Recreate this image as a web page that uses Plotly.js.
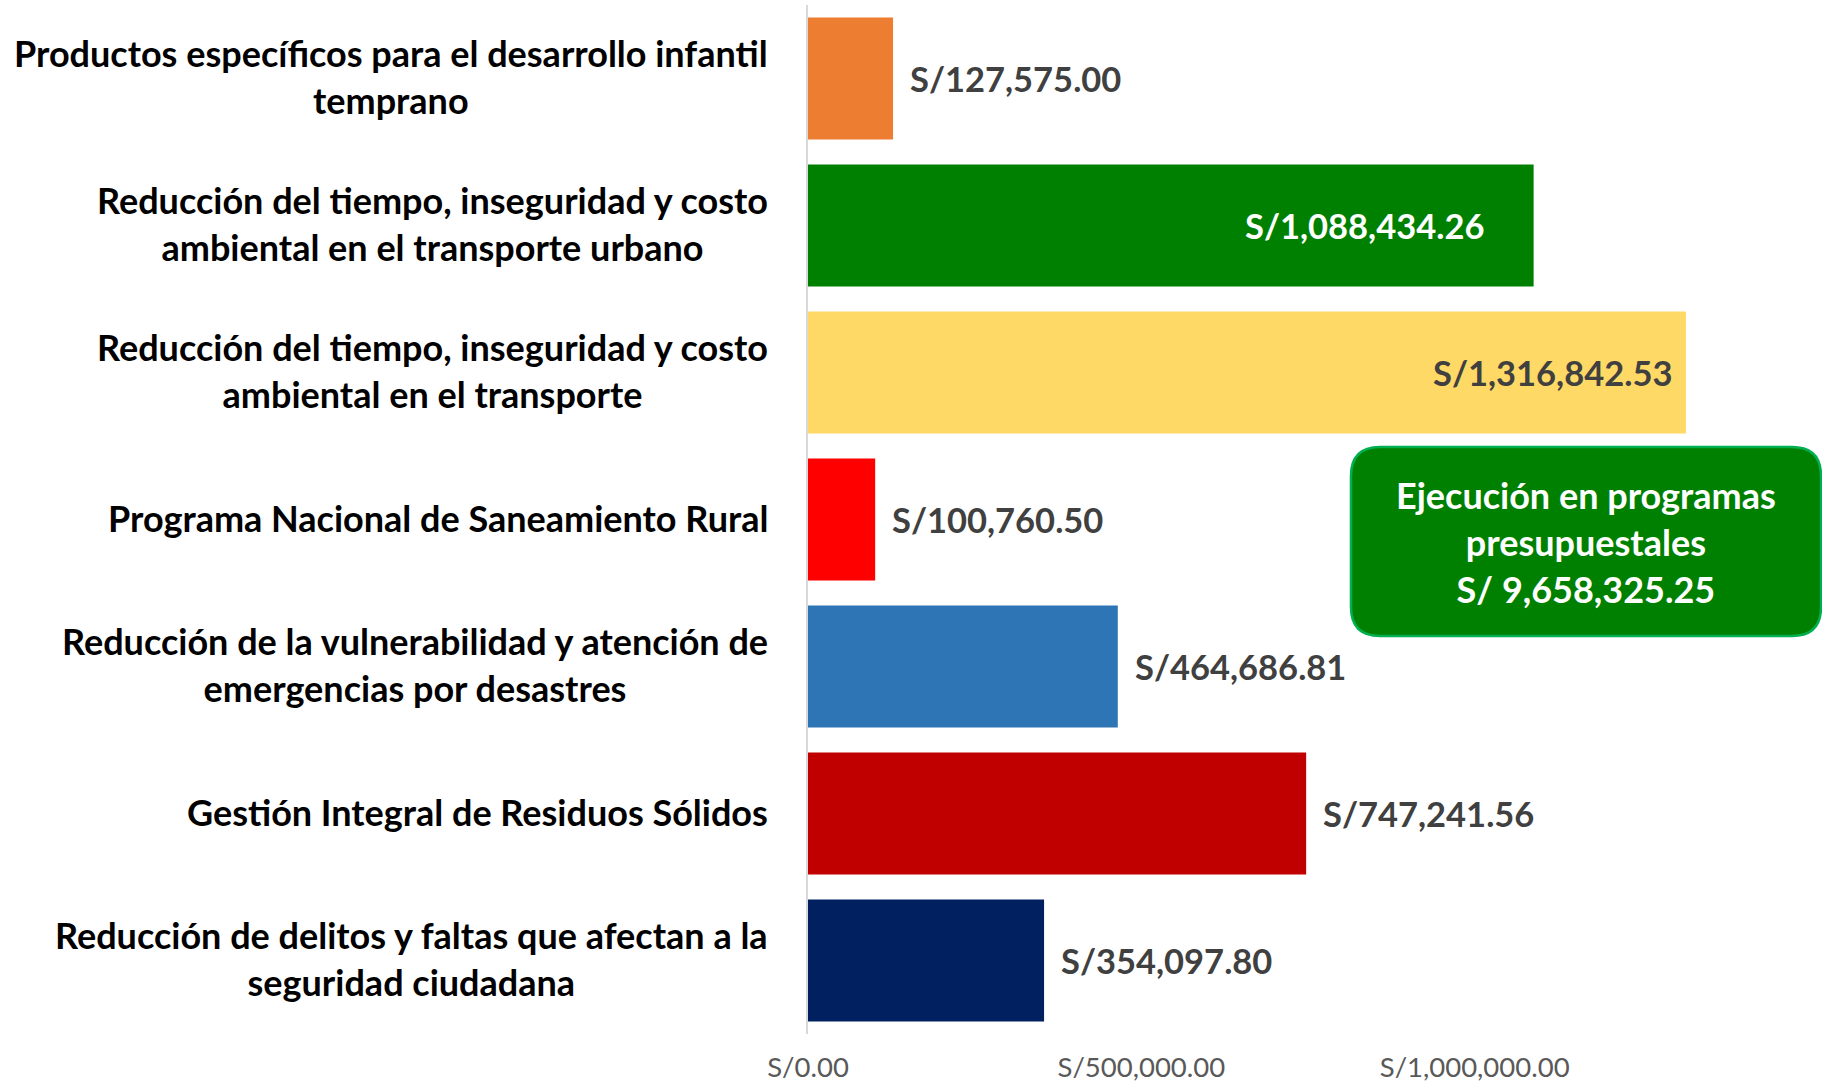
<!DOCTYPE html>
<html>
<head>
<meta charset="utf-8">
<script src="https://cdn.plot.ly/plotly-3.0.1.min.js"></script>
<style>html,body{margin:0;padding:0;background:#fff;}#chart{width:1822px;height:1083px;}</style>
</head>
<body>
<div id="chart"></div>
<script>
// ---- data ----
var categories = [
  "Productos específicos para el desarrollo infantil<br>temprano",
  "Reducción del tiempo, inseguridad y costo<br>ambiental en el transporte urbano",
  "Reducción del tiempo, inseguridad y costo<br>ambiental en el transporte",
  "Programa Nacional de Saneamiento Rural",
  "Reducción de la vulnerabilidad y atención de<br>emergencias por desastres",
  "Gestión Integral de Residuos Sólidos",
  "Reducción de delitos y faltas que afectan a la<br>seguridad ciudadana"
];
var values = [127575.00, 1088434.26, 1316842.53, 100760.50, 464686.81, 747241.56, 354097.80];
var tickValues = [0, 500000, 1000000];
var tickLabels = ["S/0.00", "S/500,000.00", "S/1,000,000.00"];
var boxText = "Ejecución en programas<br>presupuestales<br>S/ 9,658,325.25";

// ---- styles ----
var barColors = ["#ED7D31", "#008000", "#FFD966", "#FF0000", "#2E75B6", "#C00000", "#002060"];
var labelInside = [false, true, true, false, false, false, false];
var labelColors = ["#404040", "#FFFFFF", "#404040", "#404040", "#404040", "#404040", "#404040"];
var insideShift = [0, -48, -12, 0, 0, 0, 0];

var FONT = "Lato, 'Open Sans', sans-serif";

function fmt(v) {
  return "S/" + v.toLocaleString("en-US", {minimumFractionDigits: 2, maximumFractionDigits: 2});
}

var trace = {
  type: "bar",
  orientation: "h",
  x: values,
  y: categories,
  marker: {color: barColors},
  width: 0.83,
  hoverinfo: "none"
};

var annotations = [];
categories.forEach(function (c, i) {
  annotations.push({
    xref: "paper", yref: "y", x: 0, y: c,
    xanchor: "right", yanchor: "middle", xshift: -38, yshift: 2,
    align: "center", showarrow: false, text: c,
    font: {family: FONT, size: 36, color: "#000000", weight: "bold"}
  });
  annotations.push({
    xref: "x", yref: "y", x: values[i], y: c,
    xanchor: labelInside[i] ? "right" : "left",
    xshift: labelInside[i] ? insideShift[i] : 15,
    yanchor: "middle", showarrow: false, text: fmt(values[i]),
    font: {family: FONT, size: 34.5, color: labelColors[i], weight: "bold"}
  });
});

annotations.push({
  xref: "paper", yref: "paper", x: 0.778, y: 0.4786,
  xanchor: "center", yanchor: "middle", showarrow: false, align: "center",
  text: boxText,
  font: {family: FONT, size: 36, color: "#FFFFFF", weight: "bold"}
});

var w = 235, h = 94.5, r = 29;
var boxPath = "M " + (-w + r) + " " + (-h) + " L " + (w - r) + " " + (-h) +
  " Q " + w + " " + (-h) + " " + w + " " + (-h + r) +
  " L " + w + " " + (h - r) +
  " Q " + w + " " + h + " " + (w - r) + " " + h +
  " L " + (-w + r) + " " + h +
  " Q " + (-w) + " " + h + " " + (-w) + " " + (h - r) +
  " L " + (-w) + " " + (-h + r) +
  " Q " + (-w) + " " + (-h) + " " + (-w + r) + " " + (-h) + " Z";

var layout = {
  width: 1822, height: 1083,
  margin: {l: 808, r: 14, t: 5, b: 49},
  paper_bgcolor: "#FFFFFF", plot_bgcolor: "#FFFFFF",
  showlegend: false,
  xaxis: {
    range: [0, 1500000],
    tickvals: tickValues, ticktext: tickLabels,
    showgrid: false, zeroline: false, showline: false, ticks: "",
    ticklabelstandoff: 14,
    tickfont: {family: FONT, size: 27.5, color: "#595959"}
  },
  yaxis: {
    type: "category", autorange: false, range: [6.5, -0.5],
    showticklabels: false, showgrid: false, zeroline: false,
    showline: true, linecolor: "#D9D9D9", linewidth: 2, ticks: ""
  },
  shapes: [{
    type: "path", xref: "paper", yref: "paper",
    xsizemode: "pixel", ysizemode: "pixel",
    xanchor: 0.778, yanchor: 0.4786,
    path: boxPath,
    fillcolor: "#008000",
    line: {color: "#00B050", width: 2.5}
  }],
  annotations: annotations
};

Plotly.newPlot("chart", [trace], layout, {displayModeBar: false, staticPlot: true});
</script>
</body>
</html>
